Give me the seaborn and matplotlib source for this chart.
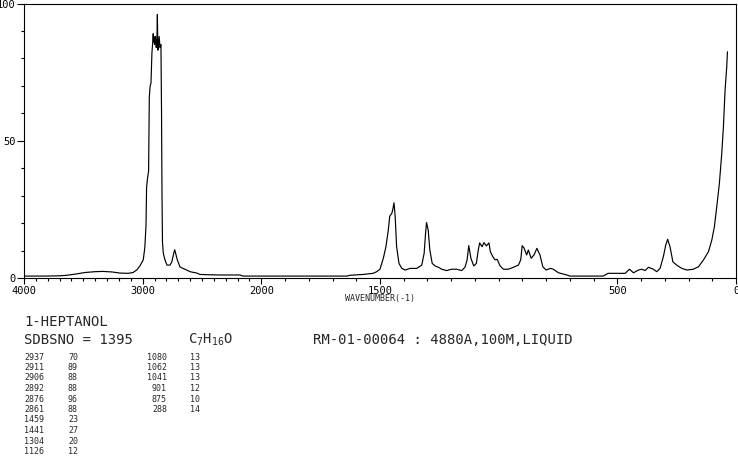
import numpy as np
import pandas as pd
import matplotlib
matplotlib.use("Agg")
import matplotlib.pyplot as plt
import seaborn as sns
from matplotlib.ticker import FixedLocator, NullFormatter, FixedFormatter

# ---------------- data ----------------
wavenumber = [4000, 3823, 3697, 3638, 3570, 3486, 3402, 3334, 3258, 3191, 3123, 3081, 3048, 3022,
              2995, 2982, 2972, 2967, 2960, 2950, 2944, 2937, 2930, 2922, 2915, 2911, 2908, 2906,
              2899, 2892, 2886, 2880, 2876, 2872, 2866, 2861, 2854, 2846, 2841, 2837, 2833, 2826,
              2812, 2795, 2770, 2755, 2738, 2730, 2722, 2708, 2685, 2629, 2601, 2544, 2517, 2458,
              2348, 2180, 2155, 1639, 1626, 1571, 1529, 1514, 1500, 1486, 1475, 1465, 1459, 1450,
              1446, 1441, 1436, 1430, 1420, 1408, 1394, 1373, 1345, 1324, 1314, 1308, 1304, 1297,
              1290, 1280, 1268, 1254, 1240, 1219, 1198, 1177, 1156, 1142, 1133, 1126, 1117, 1105,
              1094, 1086, 1080, 1070, 1062, 1052, 1041, 1035, 1025, 1015, 1006, 994, 980, 959,
              938, 917, 907, 901, 893, 882, 875, 863, 851, 839, 826, 814, 800, 783, 770, 748,
              713, 699, 560, 539, 467, 449, 432, 411, 397, 383, 369, 348, 334, 320, 306, 296,
              288, 278, 266, 250, 228, 207, 180, 158, 137, 116, 102, 91, 81, 70, 60, 53, 46, 39, 36]
intensity = [0.7, 0.7, 0.8, 1.0, 1.4, 2.0, 2.3, 2.4, 2.2, 1.8, 1.7, 2.0, 3.0, 4.5,
             6.6, 11, 19, 33, 36, 39, 66, 70, 71, 82, 86, 89, 86, 88,
             85, 88, 84, 86, 96, 83, 85, 88, 84, 85, 60, 30, 13, 9,
             6.6, 4.7, 4.7, 5.8, 9.0, 10.3, 9.0, 6.6, 4.0, 2.9, 2.3, 1.8, 1.3, 1.2,
             1.1, 1.1, 0.7, 0.7, 1.0, 1.3, 1.7, 2.3, 3.2, 7.2, 11.4, 17.5, 22.5, 23.6,
             25, 27.4, 22.3, 11.4, 5.3, 3.5, 2.9, 3.5, 3.5, 4.7, 9, 16.3, 20.2, 17.5,
             10.2, 5.3, 4.4, 3.9, 3.2, 2.7, 3.2, 3.2, 2.7, 3.9, 6.6, 11.8, 7.2, 4.4,
             5.3, 10.2, 12.8, 11.4, 12.9, 11.7, 12.8, 9.6, 7.8, 6.6, 6.8, 4.4, 3.2, 3.2,
             3.9, 4.7, 6.6, 11.8, 10.9, 8.4, 10.2, 7.2, 8.4, 10.8, 8.4, 4.1, 2.9, 3.5, 3.2, 1.9,
             1.1, 0.7, 0.7, 1.7, 1.7, 3.2, 1.9, 2.9, 3.2, 2.7, 3.9, 3.2, 2.3, 3.5, 7.8, 12,
             14.1, 11.4, 5.9, 4.7, 3.5, 2.9, 3.2, 4.1, 6.6, 9.6, 13.8, 18.7, 26, 34.5, 45.4, 55.1, 68.5, 77, 82.4]

x_major = [4000, 3000, 2000, 1500, 500, 0]
x_major_labels = ["4000", "3000", "2000", "1500", "500", "0"]
y_major = [0, 50, 100]

compound = "1-HEPTANOL"
sdbs_line = "SDBSNO = 1395"
formula = r"$\mathrm{C_{7}H_{16}O}$"
sample_info = "RM-01-00064 : 4880A,100M,LIQUID"
peak_wn_1 = ["2937", "2911", "2906", "2892", "2876", "2861", "1459", "1441", "1304", "1126"]
peak_int_1 = ["70", "89", "88", "88", "96", "88", "23", "27", "20", "12"]
peak_wn_2 = ["1080", "1062", "1041", "901", "875", "288"]
peak_int_2 = ["13", "13", "13", "12", "10", "14"]

# ---------------- style ----------------
sns.set_theme(style="ticks")
plt.rcParams["font.family"] = ["DejaVu Sans Mono", "DejaVu Sans"]
plt.rcParams["mathtext.fontset"] = "custom"
plt.rcParams["mathtext.rm"] = "DejaVu Sans Mono"
plt.rcParams["mathtext.it"] = "DejaVu Sans Mono"

W, H = 738, 457
fig = plt.figure(figsize=(W / 100, H / 100), dpi=100)
fig.patch.set_facecolor("white")
left, right, top, bottom = 24, 736, 3.5, 278
ax = fig.add_axes([left / W, 1 - bottom / H, (right - left) / W, (bottom - top) / H])
ax.set_facecolor("white")


def fwd(x):
    x = np.asarray(x, dtype=float)
    return np.where(x <= 2000, x, 2000 + (x - 2000) / 2.0)


def inv(u):
    u = np.asarray(u, dtype=float)
    return np.where(u <= 2000, u, 2000 + (u - 2000) * 2.0)


ax.set_xscale("function", functions=(fwd, inv))

df = pd.DataFrame({"wn": wavenumber, "I": intensity})
sns.lineplot(data=df, x="wn", y="I", ax=ax, color="black", linewidth=0.85,
             estimator=None, sort=False)

ax.set_xlim(4000, 0)
ax.set_ylim(0, 100)
ax.set_xlabel("")
ax.set_ylabel("")

minor_x = [v for v in range(0, 4001, 100) if v not in x_major]
ax.xaxis.set_major_locator(FixedLocator(x_major))
ax.xaxis.set_major_formatter(FixedFormatter(x_major_labels))
ax.xaxis.set_minor_locator(FixedLocator(minor_x))
ax.xaxis.set_minor_formatter(NullFormatter())
ax.yaxis.set_major_locator(FixedLocator(y_major))
ax.yaxis.set_minor_locator(FixedLocator([v for v in range(0, 101, 10) if v not in y_major]))
ax.yaxis.set_minor_formatter(NullFormatter())

for s in ax.spines.values():
    s.set_visible(True)
    s.set_linewidth(0.8)
    s.set_color("black")

ax.tick_params(axis="x", which="major", direction="out", length=4, width=0.8,
               labelsize=7.5, pad=1.5, colors="black")
ax.tick_params(axis="x", which="minor", direction="out", length=2.5, width=0.8, colors="black")
ax.tick_params(axis="y", which="major", direction="out", length=5, width=0.8,
               labelsize=7.5, pad=1, colors="black")
ax.tick_params(axis="y", which="minor", direction="out", length=2, width=0.8, colors="black")

# ---------------- texts ----------------
def px(xp, yp):
    return xp / W, 1 - yp / H

fig.text(*px(345, 299), "WAVENUMBER(-1)", fontsize=6, va="center", ha="left")
fig.text(*px(24, 322), compound, fontsize=10, va="center", ha="left")
fig.text(*px(24, 340), sdbs_line, fontsize=10, va="center", ha="left")
fig.text(*px(188, 340), formula, fontsize=10, va="center", ha="left")
fig.text(*px(313, 340), sample_info, fontsize=10, va="center", ha="left")

for i, (w_, v_) in enumerate(zip(peak_wn_1, peak_int_1)):
    y = 357 + 10.5 * i
    fig.text(*px(44, y), w_, fontsize=6, va="center", ha="right")
    fig.text(*px(68, y), v_, fontsize=6, va="center", ha="left")
for i, (w_, v_) in enumerate(zip(peak_wn_2, peak_int_2)):
    y = 357 + 10.5 * i
    fig.text(*px(167, y), w_, fontsize=6, va="center", ha="right")
    fig.text(*px(190, y), v_, fontsize=6, va="center", ha="left")

fig.savefig("out.png", dpi=100, facecolor="white")
